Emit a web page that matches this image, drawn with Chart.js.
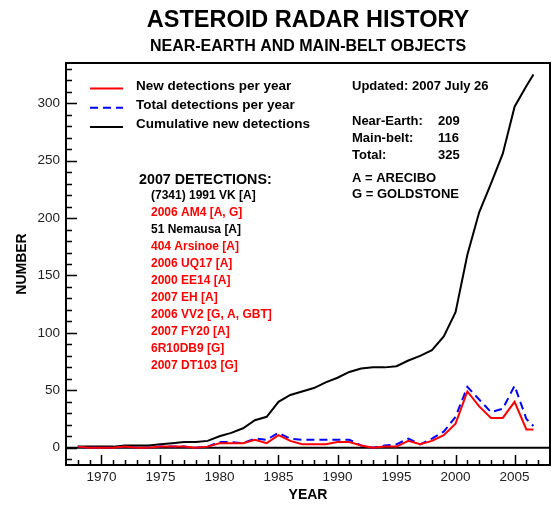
<!DOCTYPE html>
<html>
<head>
<meta charset="utf-8">
<script src="https://cdn.jsdelivr.net/npm/chart.js@4.4.1/dist/chart.umd.min.js"></script>
<style>
  html, body { margin: 0; padding: 0; background: #fff; }
  #wrap { width: 552px; height: 508px; }
</style>
</head>
<body>
<div id="wrap"><canvas id="radarChart" width="552" height="508"></canvas></div>
<script>
const years = [
    1968, 1969, 1970, 1971, 1972, 1973, 1974, 1975, 1976, 1977,
    1978, 1979, 1980, 1981, 1982, 1983, 1984, 1985, 1986, 1987,
    1988, 1989, 1990, 1991, 1992, 1993, 1994, 1995, 1996, 1997,
    1998, 1999, 2000, 2001, 2002, 2003, 2004, 2005, 2006, 2006.6,
];

// red line
const newPerYear = [
    1, 0, 0, 0, 1, 0, 0, 1, 1, 1,
    0, 1, 4, 4, 4, 7, 4, 11, 6, 3,
    3, 3, 5, 5, 2, 0, 1, 1, 6, 3,
    6, 11, 21, 49, 36, 26, 26, 40, 16, 16,
];

// blue dashed line
const totalPerYear = [
    1, 0, 0, 0, 1, 0, 0, 1, 1, 1,
    0, 1, 5, 5, 4, 8, 7, 13, 8, 7,
    7, 7, 7, 7, 2, 0, 2, 3, 8, 3,
    8, 14, 27, 53, 42, 31, 34, 54, 25, 19,
];

// black line
const cumulative = [
    1, 1, 1, 1, 2, 2, 2, 3, 4, 5,
    5, 6, 10, 13, 17, 24, 27, 40, 46, 49,
    52, 57, 61, 66, 69, 70, 70, 71, 76, 80,
    85, 97, 118, 168, 205, 230, 256, 297, 315, 325,
];

const xTicks = [1970, 1975, 1980, 1985, 1990, 1995, 2000, 2005];
const yTicks = [0, 50, 100, 150, 200, 250, 300];

const detections = [
    "(7341) 1991 VK [A]",
    "2006 AM4 [A, G]",
    "51 Nemausa [A]",
    "404 Arsinoe [A]",
    "2006 UQ17 [A]",
    "2000 EE14 [A]",
    "2007 EH [A]",
    "2006 VV2 [G, A, GBT]",
    "2007 FY20 [A]",
    "6R10DB9 [G]",
    "2007 DT103 [G]",
];
const detectionColors = [
    "#000", "#ff0000", "#000", "#ff0000", "#ff0000", "#ff0000",
    "#ff0000", "#ff0000", "#ff0000", "#ff0000", "#ff0000",
];

const statLabels = ["Near-Earth:", "Main-belt:", "Total:"];
const statValues = ["209", "116", "325"];

const FONT = "'Liberation Sans', Arial, Helvetica, sans-serif";

const toPoints = (vals) => vals.map((v, i) => ({ x: years[i], y: v }));

// frame, inward ticks, zero line, legend and notes
const decorPlugin = {
    id: "decor",
    beforeDatasetsDraw(chart) {
        const { ctx, chartArea: a, scales } = chart;
        const y0 = scales.y.getPixelForValue(0);
        ctx.save();
        ctx.strokeStyle = "#000";
        ctx.lineWidth = 2;
        ctx.beginPath();
        ctx.moveTo(a.left, y0);
        ctx.lineTo(a.right, y0);
        ctx.stroke();
        ctx.restore();
    },
    afterDraw(chart) {
        const { ctx, chartArea: a, scales } = chart;
        const xs = scales.x;
        const ys = scales.y;
        ctx.save();
        ctx.strokeStyle = "#000";
        ctx.lineWidth = 2;
        ctx.strokeRect(a.left, a.top, a.right - a.left, a.bottom - a.top);

        ctx.lineWidth = 1.5;
        ctx.beginPath();
        for (let yr = 1968; yr <= 2007; yr++) {
            const px = Math.round(xs.getPixelForValue(yr)) + 0.5;
            const len = yr % 5 === 0 ? 10 : 5;
            ctx.moveTo(px, a.bottom);
            ctx.lineTo(px, a.bottom - len);
        }
        for (let v = -10; v <= 330; v += 10) {
            const py = Math.round(ys.getPixelForValue(v)) + 0.5;
            const len = v % 50 === 0 ? 11 : 6;
            ctx.moveTo(a.left, py);
            ctx.lineTo(a.left + len, py);
        }
        ctx.stroke();

        // legend
        ctx.textBaseline = "middle";
        ctx.textAlign = "left";
        ctx.font = "bold 13.5px " + FONT;
        chart.data.datasets.forEach((ds, i) => {
            const ty = 86 + i * 19.2;
            const ly = ty + 2.5;
            ctx.save();
            ctx.strokeStyle = ds.borderColor;
            ctx.lineWidth = 2;
            ctx.setLineDash(ds.borderDash || []);
            ctx.beginPath();
            ctx.moveTo(90, ly);
            ctx.lineTo(123, ly);
            ctx.stroke();
            ctx.restore();
            ctx.fillStyle = "#000";
            ctx.fillText(ds.label, 136, ty);
        });

        // right notes
        ctx.font = "bold 13px " + FONT;
        ctx.fillStyle = "#000";
        ctx.fillText("Updated: 2007 July 26", 352, 86);
        statLabels.forEach((t, i) => {
            ctx.fillText(t, 352, 121 + i * 17);
            ctx.fillText(statValues[i], 438, 121 + i * 17);
        });
        ctx.fillText("A = ARECIBO", 352, 178);
        ctx.fillText("G = GOLDSTONE", 352, 194);

        // detections list
        ctx.font = "bold 14.3px " + FONT;
        ctx.fillText("2007 DETECTIONS:", 139, 180);
        ctx.font = "bold 12px " + FONT;
        detections.forEach((t, i) => {
            ctx.fillStyle = detectionColors[i];
            ctx.fillText(t, 151, 196 + i * 17);
        });
        ctx.restore();
    },
};

const ctxRadar = document.getElementById("radarChart").getContext("2d");

new Chart(ctxRadar, {
    type: "line",
    data: {
        datasets: [
            {
                label: "New detections per year",
                data: toPoints(newPerYear),
                borderColor: "#ff0000",
                borderWidth: 2,
            },
            {
                label: "Total detections per year",
                data: toPoints(totalPerYear),
                borderColor: "#0000ff",
                borderWidth: 2,
                borderDash: [8, 5],
            },
            {
                label: "Cumulative new detections",
                data: toPoints(cumulative),
                borderColor: "#000000",
                borderWidth: 2,
            },
        ],
    },
    options: {
        responsive: false,
        animation: false,
        elements: {
            point: { radius: 0 },
            line: { tension: 0 },
        },
        layout: {
            padding: { left: 0, right: 2, top: 0, bottom: 0 },
        },
        plugins: {
            legend: { display: false },
            tooltip: { enabled: false },
            title: {
                display: true,
                fullSize: false,
                text: "ASTEROID RADAR HISTORY",
                color: "#000",
                font: { family: FONT, size: 23.5, weight: "bold", lineHeight: 1.2 },
                padding: { top: 6, bottom: 3 },
            },
            subtitle: {
                display: true,
                fullSize: false,
                text: "NEAR-EARTH AND MAIN-BELT OBJECTS",
                color: "#000",
                font: { family: FONT, size: 16, weight: "bold", lineHeight: 1.2 },
                padding: { top: 0, bottom: 6.6 },
            },
        },
        scales: {
            x: {
                type: "linear",
                min: 1967,
                max: 2008,
                grid: { display: false, drawTicks: false },
                border: { display: false },
                afterBuildTicks: (scale) => {
                    scale.ticks = xTicks.map((v) => ({ value: v }));
                },
                afterFit: (scale) => {
                    scale.height = 43;
                },
                ticks: {
                    color: "#222",
                    padding: 4,
                    maxRotation: 0,
                    autoSkip: false,
                    font: { family: FONT, size: 13.5 },
                    callback: (v) => String(v),
                },
                title: {
                    display: true,
                    text: "YEAR",
                    color: "#000",
                    font: { family: FONT, size: 14, weight: "bold", lineHeight: 1.2 },
                    padding: { top: 0, bottom: 4 },
                },
            },
            y: {
                type: "linear",
                min: -15,
                max: 335,
                grid: { display: false, drawTicks: false },
                border: { display: false },
                afterBuildTicks: (scale) => {
                    scale.ticks = yTicks.map((v) => ({ value: v }));
                },
                afterFit: (scale) => {
                    scale.width = 66;
                },
                ticks: {
                    color: "#222",
                    padding: 6,
                    autoSkip: false,
                    font: { family: FONT, size: 13.5 },
                    callback: (v) => String(v),
                },
                title: {
                    display: true,
                    text: "NUMBER",
                    color: "#000",
                    font: { family: FONT, size: 14, weight: "bold", lineHeight: 1.2 },
                    padding: { top: 13.5, bottom: 0 },
                },
            },
        },
    },
    plugins: [decorPlugin],
});
</script>
</body>
</html>
